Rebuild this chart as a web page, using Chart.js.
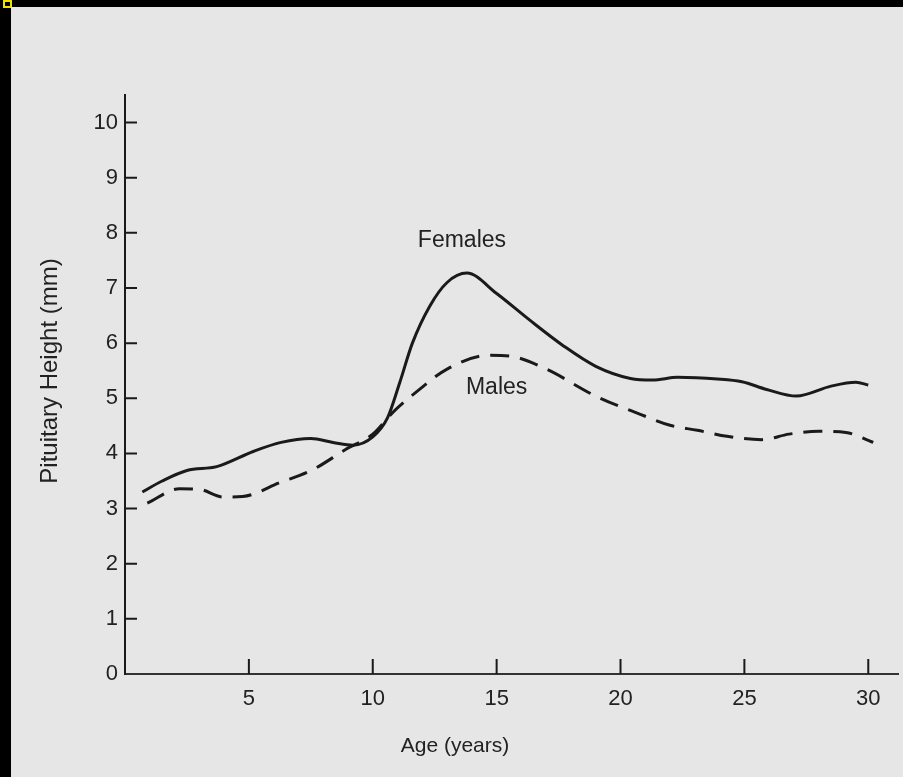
<!DOCTYPE html>
<html>
<head>
<meta charset="utf-8">
<script src="https://cdn.jsdelivr.net/npm/chart.js@4"></script>
<style>
  html, body { margin: 0; padding: 0; background: #000; }
  #paper { position: absolute; left: 11px; top: 7px; width: 892px; height: 770px; background: #e6e6e6; }
  #mark { position: absolute; left: 3px; top: 0px; width: 5px; height: 4px; border: 2px solid #f0e000; }
</style>
</head>
<body>
<div id="mark"></div>
<div id="paper"><canvas id="chart" width="892" height="770"></canvas></div>
<script>
// values
var femaleAges    = [0.7, 1.5, 2.5, 3.7, 5.2, 6.3, 7.5, 8.4, 9.2, 10.0, 10.6, 11.1, 11.6, 12.3, 13.0, 13.8, 15.0, 16.3, 17.7, 19.0, 20.4, 21.3, 22.3, 23.9, 24.9, 25.9, 27.1, 28.5, 29.5, 30.0];
var femaleHeights = [3.3, 3.5, 3.69, 3.76, 4.04, 4.2, 4.27, 4.2, 4.15, 4.3, 4.65, 5.3, 6.0, 6.67, 7.1, 7.27, 6.9, 6.43, 5.95, 5.58, 5.36, 5.33, 5.38, 5.35, 5.3, 5.16, 5.04, 5.22, 5.29, 5.24];
var maleAges      = [0.9, 2.2, 3.0, 3.95, 4.75, 6.25, 7.6, 8.9, 10.0, 10.8, 11.8, 13.0, 14.7, 15.6, 17.0, 19.0, 20.8, 22.0, 23.1, 24.3, 25.7, 26.8, 28.0, 29.1, 30.2];
var maleHeights   = [3.1, 3.36, 3.35, 3.21, 3.22, 3.47, 3.71, 4.07, 4.35, 4.74, 5.13, 5.53, 5.78, 5.76, 5.53, 5.04, 4.71, 4.51, 4.42, 4.31, 4.25, 4.35, 4.4, 4.38, 4.2];
var xTickValues   = [5, 10, 15, 20, 25, 30];
var yTickValues   = [0, 1, 2, 3, 4, 5, 6, 7, 8, 9, 10];

function toPoints(xs, ys) {
    var pts = [];
    for (var i in xs) {
        pts.push({ x: xs[i], y: ys[i] });
    }
    return pts;
}

var ink = '#1a1a1a';
var fontFamily = '"Liberation Sans", Arial, sans-serif';

// inward tick marks, titles and curve labels
var extras = {
    id: 'extras',
    afterDraw: function(chart) {
        var ctx = chart.ctx;
        var area = chart.chartArea;
        var xs = chart.scales.x, ys = chart.scales.y;
        ctx.save();
        ctx.strokeStyle = ink;
        ctx.lineWidth = 2;
        ctx.beginPath();
        xTickValues.forEach(function(v) {
            var px = xs.getPixelForValue(v);
            ctx.moveTo(px, area.bottom);
            ctx.lineTo(px, area.bottom - 15);
        });
        yTickValues.forEach(function(v) {
            if (v === 0) return;
            var py = ys.getPixelForValue(v);
            ctx.moveTo(area.left, py);
            ctx.lineTo(area.left + 12, py);
        });
        ctx.stroke();

        ctx.fillStyle = '#222';
        ctx.textAlign = 'center';
        ctx.textBaseline = 'middle';
        ctx.font = '21px ' + fontFamily;
        ctx.fillText('Age (years)', 444, 739);
        ctx.font = '23px ' + fontFamily;
        ctx.fillText('Females', xs.getPixelForValue(13.6), ys.getPixelForValue(7.85));
        ctx.fillText('Males', xs.getPixelForValue(15.0), ys.getPixelForValue(5.2));

        ctx.font = '24px ' + fontFamily;
        ctx.translate(39, 364);
        ctx.rotate(-Math.PI / 2);
        ctx.fillText('Pituitary Height (mm)', 0, 0);
        ctx.restore();
    }
};

var ctx = document.getElementById('chart');
var chart = new Chart(ctx, {
    type: 'line',
    data: {
        datasets: [
            {
                label: 'Females',
                data: toPoints(femaleAges, femaleHeights),
                borderColor: ink,
                borderWidth: 3,
                pointRadius: 0,
                fill: false,
                cubicInterpolationMode: 'monotone'
            },
            {
                label: 'Males',
                data: toPoints(maleAges, maleHeights),
                borderColor: ink,
                borderWidth: 3,
                borderDash: [19, 11],
                pointRadius: 0,
                fill: false,
                cubicInterpolationMode: 'monotone'
            }
        ]
    },
    options: {
        responsive: false,
        animation: false,
        layout: { padding: { top: 88, right: 5, left: 0, bottom: 0 } },
        plugins: {
            legend: { display: false },
            tooltip: { enabled: false }
        },
        scales: {
            x: {
                type: 'linear',
                min: 0,
                max: 31.2,
                grid: { display: false, drawTicks: false },
                border: { display: true, color: '#333', width: 2 },
                afterBuildTicks: function(scale) {
                    scale.ticks = xTickValues.map(function(v) { return { value: v }; });
                },
                afterFit: function(scale) { scale.height = 103; },
                ticks: {
                    color: '#222',
                    padding: 12,
                    maxRotation: 0,
                    font: { family: fontFamily, size: 22 }
                }
            },
            y: {
                type: 'linear',
                min: 0,
                max: 10.5,
                grid: { display: false, drawTicks: false },
                border: { display: true, color: ink, width: 2 },
                afterBuildTicks: function(scale) {
                    scale.ticks = yTickValues.map(function(v) { return { value: v }; });
                },
                afterFit: function(scale) { scale.width = 114; },
                ticks: {
                    color: '#222',
                    padding: 7,
                    font: { family: fontFamily, size: 22 }
                }
            }
        }
    },
    plugins: [extras]
});
</script>
</body>
</html>
